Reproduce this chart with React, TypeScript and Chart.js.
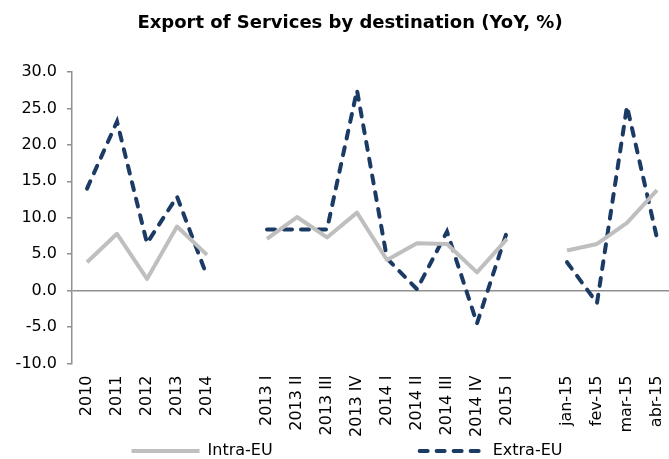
import React, { useEffect, useRef } from 'react';
import { Chart, registerables } from 'chart.js';

Chart.register(...registerables);

const TITLE = 'Export of Services by destination (YoY, %)';

const categories = [
  '2010', '2011', '2012', '2013', '2014', '',
  '2013 I', '2013 II', '2013 III', '2013 IV', '2014 I', '2014 II', '2014 III', '2014 IV', '2015 I', '',
  'jan-15', 'fev-15', 'mar-15', 'abr-15',
];

const intraEU: (number | null)[] = [
  3.9, 7.8, 1.6, 8.8, 4.9, null,
  7.1, 10.1, 7.3, 10.7, 4.2, 6.5, 6.4, 2.5, 7.1, null,
  5.5, 6.4, 9.3, 13.8,
];

const extraEU: (number | null)[] = [
  14.0, 23.2, 6.5, 12.9, 2.0, null,
  8.4, 8.4, 8.4, 27.5, 4.4, 0.2, 8.1, -4.5, 8.1, null,
  3.9, -1.7, 25.3, 7.2,
];

const Y_MIN = -10;
const Y_MAX = 30;
const Y_STEP = 5;

const FONT = '"DejaVu Sans", "Liberation Sans", Arial, sans-serif';
const NAVY = '#1B3A64';
const GRAY_LINE = '#BFBFBF';
const AXIS = '#8F8F8F';

const titleAndLegend = {
  id: 'titleAndLegend',
  afterDraw(chart: any) {
    const ctx = chart.ctx;
    ctx.save();
    ctx.fillStyle = '#000';
    ctx.textBaseline = 'middle';
    ctx.textAlign = 'center';
    ctx.font = `bold 18px ${FONT}`;
    ctx.fillText(TITLE, 350, 23);

    ctx.font = `16px ${FONT}`;
    ctx.textAlign = 'left';
    const y = 451;
    const lineLen = 68;
    const textGap = 8;
    const itemGap = 144;
    const items = chart.data.datasets.map((ds: any) => ({
      ds,
      w: lineLen + textGap + ctx.measureText(ds.label).width,
    }));
    const total = items.reduce((s: number, it: any) => s + it.w, 0) + itemGap * (items.length - 1);
    let x = 347 - total / 2;
    items.forEach((it: any) => {
      const ds = it.ds;
      ctx.beginPath();
      ctx.strokeStyle = ds.borderColor;
      ctx.lineWidth = ds.borderWidth;
      ctx.lineCap = ds.borderCapStyle || 'butt';
      ctx.setLineDash(ds.borderDash || []);
      ctx.moveTo(x + (ds.borderDash ? 3 : 0), y);
      ctx.lineTo(x + lineLen, y);
      ctx.stroke();
      ctx.setLineDash([]);
      ctx.fillText(ds.label, x + lineLen + textGap, y);
      x += it.w + itemGap;
    });
    ctx.restore();
  },
};

export default function App() {
  const canvasRef = useRef<HTMLCanvasElement | null>(null);

  useEffect(() => {
    if (!canvasRef.current) return;
    const chart = new Chart(canvasRef.current, {
      type: 'line',
      data: {
        labels: categories,
        datasets: [
          {
            label: 'Intra-EU',
            data: intraEU,
            borderColor: GRAY_LINE,
            backgroundColor: GRAY_LINE,
            borderWidth: 4,
            pointRadius: 0,
            spanGaps: false,
            tension: 0,
            borderJoinStyle: 'round',
          },
          {
            label: 'Extra-EU',
            data: extraEU,
            borderColor: NAVY,
            backgroundColor: NAVY,
            borderWidth: 4,
            borderDash: [8, 9],
            borderCapStyle: 'round',
            pointRadius: 0,
            spanGaps: false,
            tension: 0,
          },
        ],
      },
      options: {
        animation: false,
        responsive: true,
        maintainAspectRatio: false,
        layout: { padding: { top: 72, left: 0, right: 0, bottom: 0 } },
        plugins: {
          legend: { display: false },
          title: { display: false },
          tooltip: { enabled: false },
        },
        scales: {
          x: {
            type: 'category',
            offset: true,
            grid: { display: false },
            border: { display: false },
            ticks: {
              autoSkip: false,
              maxRotation: 90,
              minRotation: 90,
              padding: 4,
              color: '#000',
              font: { family: FONT, size: 16 },
            },
            afterFit(scale: any) {
              scale.height = 95.5;
              scale.paddingLeft = 0;
              scale.paddingRight = 0;
            },
          },
          y: {
            min: Y_MIN,
            max: Y_MAX,
            border: { display: true, color: AXIS, width: 1.5 },
            grid: {
              drawOnChartArea: true,
              drawTicks: true,
              tickLength: 5,
              lineWidth: 1.5,
              color: (c: any) => (c.tick && c.tick.value === 0 ? AXIS : 'rgba(0,0,0,0)'),
              tickColor: AXIS,
            },
            ticks: {
              stepSize: Y_STEP,
              padding: 10,
              color: '#000',
              font: { family: FONT, size: 16 },
              callback: (v: any) => Number(v).toFixed(1),
            },
            afterFit(scale: any) {
              scale.width = 72;
            },
          },
        },
      },
      plugins: [titleAndLegend],
    });
    return () => chart.destroy();
  }, []);

  return (
    <div style={{ position: 'fixed', left: 0, top: 0, width: 669, height: 459, overflow: 'hidden', background: '#fff' }}>
      <div style={{ position: 'relative', width: 672, height: 459 }}>
        <canvas ref={canvasRef} />
      </div>
    </div>
  );
}
